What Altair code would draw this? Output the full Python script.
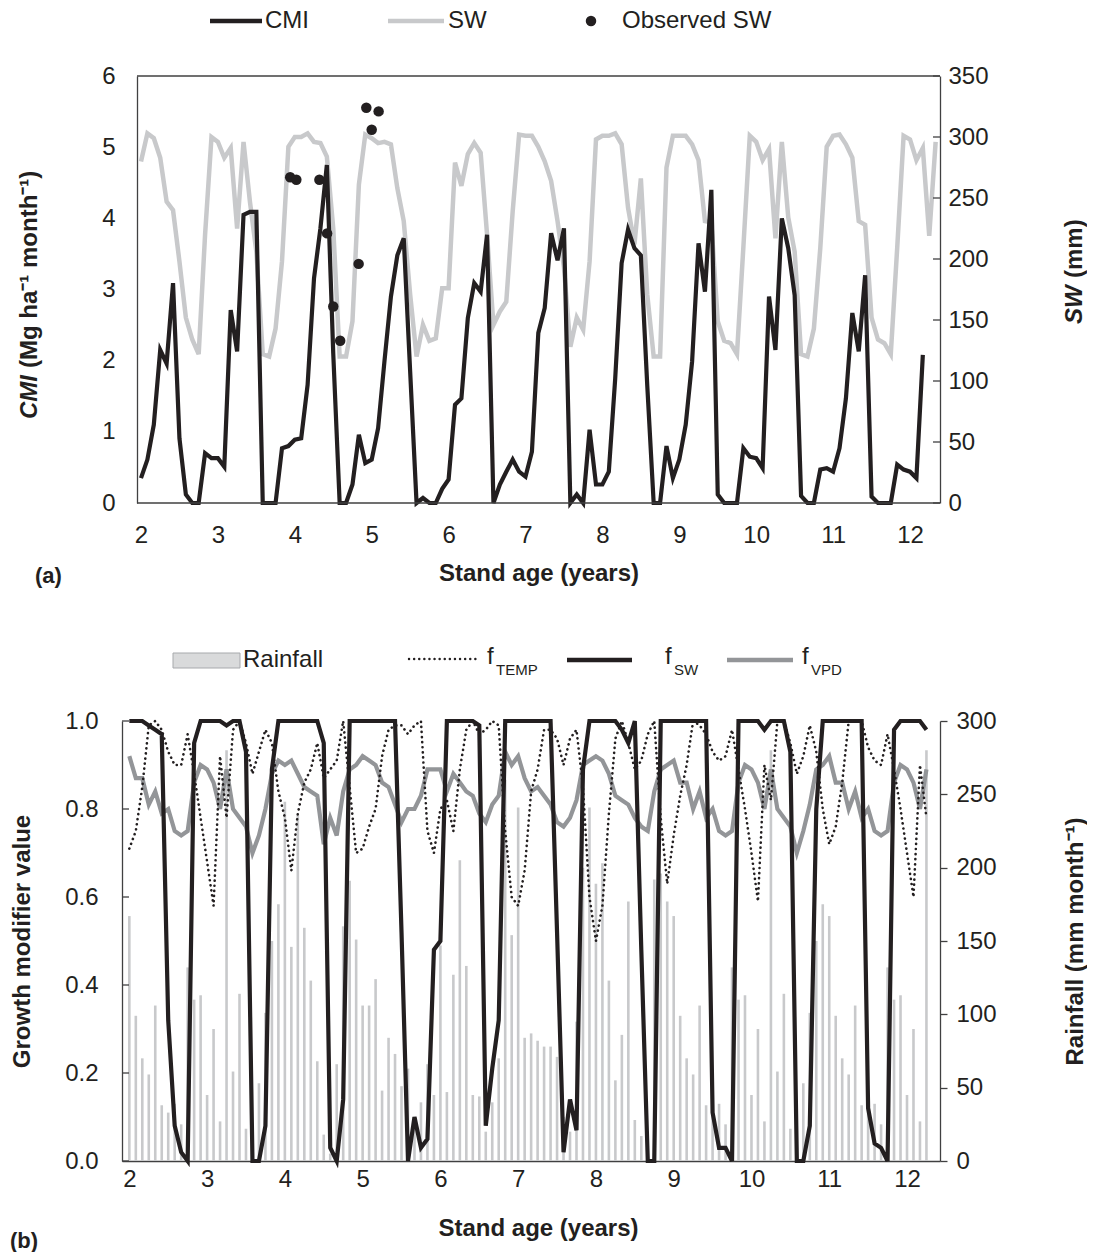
import altair as alt
import pandas as pd

# ---------------- data ----------------
x_ticks = [2, 3, 4, 5, 6, 7, 8, 9, 10, 11, 12]
cmi_ticks = [0, 1, 2, 3, 4, 5, 6]
sw_ticks = [0, 50, 100, 150, 200, 250, 300, 350]
f_ticks = [0.0, 0.2, 0.4, 0.6, 0.8, 1.0]
rain_ticks = [0, 50, 100, 150, 200, 250, 300]

# panel (a): monthly values from stand age 2.0
cmi = [0.35, 0.61, 1.10, 2.15, 1.96, 3.09, 0.91, 0.12, 0.00, 0.00, 0.70, 0.63,
       0.63, 0.51, 2.71, 2.13, 4.05, 4.09, 4.09, 0.00, 0.00, 0.00, 0.77, 0.80,
       0.89, 0.91, 1.66, 3.16, 3.86, 4.75, 2.10, 0.00, 0.00, 0.26, 0.96, 0.56,
       0.61, 1.05, 2.00, 2.90, 3.48, 3.72, 1.85, 0.00, 0.07, 0.00, 0.00, 0.20,
       0.33, 1.38, 1.47, 2.60, 3.09, 2.97, 3.77, 0.00, 0.26, 0.44, 0.61, 0.44,
       0.37, 0.72, 2.39, 2.74, 3.79, 3.41, 3.86, 0.00, 0.12, 0.00, 1.03, 0.26,
       0.26, 0.44, 1.75, 3.37, 3.84, 3.58, 3.48, 1.65, 0.00, 0.00, 0.80, 0.35,
       0.61, 1.10, 1.99, 3.65, 2.97, 4.40, 0.12, 0.00, 0.00, 0.00, 0.77, 0.65,
       0.63, 0.49, 2.90, 2.15, 4.00, 3.58, 2.92, 0.10, 0.00, 0.00, 0.47, 0.49,
       0.44, 0.77, 1.47, 2.67, 2.13, 3.20, 0.09, 0.00, 0.00, 0.00, 0.54, 0.47,
       0.44, 0.35, 2.08]

sw = [280, 303, 299, 283, 247, 240, 198, 152, 134, 122, 220, 300,
      296, 283, 291, 225, 296, 247, 206, 122, 120, 143, 198, 292,
      300, 300, 303, 296, 295, 284, 225, 120, 120, 149, 261, 302,
      299, 295, 296, 294, 258, 231, 171, 120, 146, 133, 135, 176,
      176, 279, 260, 286, 295, 287, 220, 146, 157, 165, 239, 302,
      301, 301, 292, 280, 264, 231, 193, 128, 152, 142, 198, 298,
      301, 301, 303, 294, 242, 212, 266, 171, 120, 120, 275, 301,
      301, 301, 294, 281, 231, 230, 149, 133, 131, 122, 210, 301,
      296, 281, 290, 217, 296, 234, 206, 122, 120, 143, 209, 292,
      301, 302, 294, 283, 231, 228, 152, 134, 131, 122, 209, 301,
      298, 281, 291, 219, 296]

obs_age = [3.94, 4.02, 4.32, 4.42, 4.50, 4.59, 4.83, 4.93, 5.00, 5.09]
obs_sw = [267, 265, 265, 221, 161, 133, 196, 324, 306, 321]

# panel (b): monthly values from stand age 2.0
rain = [167, 99, 70, 59, 106, 38, 33, 39, 25, 132, 110, 113,
        45, 90, 27, 280, 61, 114, 22, 10, 53, 101, 150, 175,
        245, 146, 236, 159, 123, 68, 18, 5, 66, 160, 191, 151,
        106, 106, 124, 48, 84, 73, 51, 63, 30, 40, 66, 45,
        147, 47, 127, 205, 133, 45, 44, 20, 40, 70, 260, 154,
        241, 84, 87, 82, 78, 78, 71, 30, 20, 95, 200, 241,
        189, 203, 123, 55, 86, 177, 28, 17, 5, 192, 196, 177,
        167, 99, 70, 59, 106, 38, 33, 39, 25, 132, 110, 113,
        45, 90, 27, 280, 61, 114, 22, 10, 53, 101, 150, 175,
        167, 99, 70, 59, 106, 38, 33, 39, 25, 132, 110, 113,
        45, 90, 27, 280]

ftemp = [0.71, 0.75, 0.85, 0.99, 1.00, 0.98, 0.93, 0.90, 0.90, 0.97, 0.88, 0.78,
         0.68, 0.58, 0.92, 0.78, 0.98, 1.00, 0.95, 0.88, 0.93, 0.98, 0.95, 0.84,
         0.78, 0.66, 0.79, 0.86, 0.89, 0.95, 0.87, 0.89, 0.91, 1.00, 0.85, 0.70,
         0.71, 0.76, 0.80, 0.92, 0.98, 0.99, 0.99, 0.97, 0.99, 1.00, 0.75, 0.70,
         0.80, 0.82, 0.75, 0.89, 0.98, 1.00, 0.97, 0.98, 1.00, 0.99, 0.75, 0.60,
         0.58, 0.66, 0.84, 0.89, 0.98, 0.98, 0.96, 0.90, 0.96, 0.98, 0.85, 0.60,
         0.50, 0.58, 0.79, 0.96, 1.00, 0.95, 0.89, 0.91, 0.97, 1.00, 0.78, 0.63,
         0.74, 0.83, 0.90, 1.00, 0.99, 0.97, 0.93, 0.91, 0.92, 0.98, 0.89, 0.80,
         0.70, 0.59, 0.90, 0.82, 1.00, 1.00, 0.95, 0.88, 0.92, 0.99, 0.93, 0.80,
         0.72, 0.76, 0.86, 1.00, 1.00, 1.00, 0.94, 0.91, 0.90, 0.97, 0.89, 0.80,
         0.70, 0.60, 0.90, 0.78]

fsw = [1.00, 1.00, 1.00, 0.99, 0.98, 0.97, 0.32, 0.08, 0.02, 0.00, 0.95, 1.00,
       1.00, 1.00, 1.00, 0.99, 1.00, 1.00, 0.93, 0.00, 0.00, 0.08, 0.89, 1.00,
       1.00, 1.00, 1.00, 1.00, 1.00, 1.00, 0.95, 0.03, 0.00, 0.14, 1.00, 1.00,
       1.00, 1.00, 1.00, 1.00, 1.00, 1.00, 0.52, 0.00, 0.10, 0.03, 0.05, 0.48,
       0.50, 1.00, 1.00, 1.00, 1.00, 1.00, 0.99, 0.08, 0.21, 0.32, 1.00, 1.00,
       1.00, 1.00, 1.00, 1.00, 1.00, 1.00, 0.52, 0.02, 0.14, 0.07, 0.89, 1.00,
       1.00, 1.00, 1.00, 1.00, 0.98, 0.95, 1.00, 0.48, 0.00, 0.00, 1.00, 1.00,
       1.00, 1.00, 1.00, 1.00, 1.00, 1.00, 0.11, 0.03, 0.03, 0.00, 1.00, 1.00,
       1.00, 1.00, 0.98, 1.00, 1.00, 1.00, 0.93, 0.00, 0.00, 0.08, 0.80, 1.00,
       1.00, 1.00, 1.00, 1.00, 1.00, 1.00, 0.12, 0.04, 0.03, 0.00, 0.98, 1.00,
       1.00, 1.00, 1.00, 0.98]

fvpd = [0.92, 0.87, 0.87, 0.81, 0.84, 0.79, 0.80, 0.75, 0.74, 0.75, 0.86, 0.90,
        0.89, 0.86, 0.80, 0.89, 0.80, 0.78, 0.76, 0.70, 0.74, 0.80, 0.88, 0.91,
        0.90, 0.91, 0.88, 0.85, 0.84, 0.83, 0.72, 0.78, 0.74, 0.84, 0.89, 0.90,
        0.92, 0.91, 0.90, 0.86, 0.85, 0.81, 0.77, 0.80, 0.80, 0.83, 0.89, 0.89,
        0.89, 0.84, 0.88, 0.86, 0.84, 0.83, 0.79, 0.77, 0.81, 0.83, 0.93, 0.90,
        0.92, 0.87, 0.84, 0.85, 0.83, 0.81, 0.77, 0.76, 0.78, 0.82, 0.90, 0.91,
        0.92, 0.91, 0.88, 0.83, 0.82, 0.81, 0.78, 0.76, 0.75, 0.84, 0.89, 0.90,
        0.91, 0.86, 0.86, 0.80, 0.84, 0.78, 0.80, 0.75, 0.74, 0.75, 0.86, 0.90,
        0.89, 0.86, 0.80, 0.89, 0.80, 0.78, 0.76, 0.70, 0.75, 0.81, 0.89, 0.90,
        0.92, 0.86, 0.86, 0.80, 0.84, 0.78, 0.80, 0.75, 0.74, 0.75, 0.86, 0.90,
        0.89, 0.86, 0.80, 0.89]

# ---------------- tables ----------------
START_AGE = 2
age_a = [START_AGE + m / 12 for m in range(len(sw))]
df_sw = pd.DataFrame({"age": age_a, "sw": sw})
df_cmi = pd.DataFrame({"age": age_a[:len(cmi)], "cmi": cmi})
df_obs = pd.DataFrame({"age": obs_age, "sw": obs_sw})
age_b = [START_AGE + m / 12 for m in range(len(rain))]
df_b = pd.DataFrame({"age": age_b, "rain": rain, "ftemp": ftemp,
                     "fsw": fsw, "fvpd": fvpd})
one = pd.DataFrame({"z": [0]})

# ---------------- styles ----------------
FONT = "Liberation Sans"
BLACK = "#231f20"
LGRAY = "#c8c9cb"
MGRAY = "#939598"
AXC = "#404041"
LAB = 24
LEG = 24
TIT = 24


def deco_text(txt, x, y, size=LEG, bold=False, align="left"):
    return alt.Chart(one).mark_text(
        text=txt, font=FONT, fontSize=size, align=align, baseline="middle",
        color=BLACK, fontWeight="bold" if bold else "normal"
    ).encode(x=alt.value(x), y=alt.value(y))


def vtitle(txt, x, y, italic=False):
    # vertical (reading upwards) bold title piece starting at (x, y)
    kw = dict(text=txt, font=FONT, fontSize=TIT, fontWeight="bold",
              align="left", baseline="middle", angle=270, color=BLACK)
    if italic:
        kw["fontStyle"] = "italic"
    return alt.Chart(one).mark_text(**kw).encode(x=alt.value(x), y=alt.value(y))


def deco_rule(x1, x2, y, color, width, dash=None):
    kw = dict(color=color, strokeWidth=width)
    if dash is not None:
        kw["strokeDash"] = dash
        kw["strokeCap"] = "round"
    return alt.Chart(one).mark_rule(**kw).encode(
        x=alt.value(x1), x2=alt.value(x2), y=alt.value(y))


def anchor(x, y):
    return alt.Chart(one).mark_point(opacity=0, size=4, filled=True).encode(
        x=alt.value(x), y=alt.value(y))


# ---------------- panel (a) ----------------
# plot group spans the same width as panel (b); the left axis sits 15 px inside
WA, HA = 818, 427
AX0 = 15
xA = alt.Scale(domain=[1.753, 12.39], nice=False, zero=False)
yCMI = alt.Scale(domain=[0, 6], nice=False, zero=True)
ySW = alt.Scale(domain=[0, 350], nice=False, zero=True)

axA_x = alt.Axis(values=x_ticks, format="d", title="Stand age (years)",
                 titleX=(AX0 + WA) / 2, titleY=70, titleAlign="center",
                 titleBaseline="middle", labelPadding=20, labelFlush=False,
                 domain=False)
axA_l = alt.Axis(orient="left", values=cmi_ticks, format="d", offset=-AX0,
                 title="", labelPadding=22, labelFlush=False)
axA_r = alt.Axis(orient="right", values=sw_ticks, format="d",
                 title="", labelPadding=8, labelFlush=False)

sw_line = alt.Chart(df_sw).mark_line(color=LGRAY, strokeWidth=4.5).encode(
    x=alt.X("age:Q", scale=xA, axis=axA_x),
    y=alt.Y("sw:Q", scale=ySW, axis=axA_r))
obs_pts = alt.Chart(df_obs).mark_circle(color=BLACK, size=110, opacity=1).encode(
    x=alt.X("age:Q", scale=xA, axis=axA_x),
    y=alt.Y("sw:Q", scale=ySW, axis=axA_r))
sw_tick_marks = alt.Chart(pd.DataFrame({"sw": sw_ticks})).mark_rule(
    color=AXC, strokeWidth=1.3).encode(
    x=alt.value(WA - 7), x2=alt.value(WA),
    y=alt.Y("sw:Q", scale=ySW, axis=axA_r))
sw_layer = alt.layer(sw_line, sw_tick_marks, obs_pts)

cmi_line = alt.Chart(df_cmi).mark_line(color=BLACK, strokeWidth=4.2).encode(
    x=alt.X("age:Q", scale=xA, axis=axA_x),
    y=alt.Y("cmi:Q", scale=yCMI, axis=axA_l))

frameA = [deco_rule(AX0, WA, 0, AXC, 1.3), deco_rule(AX0, WA, HA, AXC, 1.3)]

titlesA = [
    vtitle("CMI", -92, 343, italic=True),
    vtitle("(Mg ha⁻¹ month⁻¹)", -92, 292),
    vtitle("SW", 953, 248, italic=True),
    vtitle("(mm)", 953, 202),
]

legA = [
    deco_rule(88, 140, -55, BLACK, 4.5),
    deco_text("CMI", 143, -55),
    deco_rule(266, 322, -55, LGRAY, 4.5),
    deco_text("SW", 326, -55),
    alt.Chart(one).mark_circle(color=BLACK, size=110, opacity=1).encode(
        x=alt.value(469), y=alt.value(-55)),
    deco_text("Observed SW", 500, -55),
    deco_text("(a)", -87, 500, size=22, bold=True),
    anchor(-112, -75),
    anchor(-112, 530),
]

panelA = alt.layer(sw_layer, cmi_line, *frameA, *titlesA, *legA).resolve_scale(
    y="independent").properties(width=WA, height=HA)

# ---------------- panel (b) ----------------
WB, HB = 818, 440
xB = alt.Scale(domain=[1.97, 12.36], nice=False, zero=False)
yF = alt.Scale(domain=[0, 1], nice=False, zero=True)
yR = alt.Scale(domain=[0, 300], nice=False, zero=True)

axB_x = alt.Axis(values=x_ticks, format="d", title="Stand age (years)",
                 titleX=416, titleY=67, titleAlign="center",
                 titleBaseline="middle", labelPadding=6, labelFlush=False)
axB_l = alt.Axis(orient="left", values=f_ticks, format=".1f",
                 title="Growth modifier value", titleX=-100, titleY=HB / 2,
                 titleAngle=270, titleAlign="center", titleBaseline="middle",
                 labelPadding=24, labelFlush=False)
axB_r = alt.Axis(orient="right", values=rain_ticks, format="d",
                 title="Rainfall (mm month⁻¹)", titleX=135, titleY=HB / 2,
                 titleAngle=270, titleAlign="center", titleBaseline="middle",
                 ticks=True, tickSize=7, labelPadding=9, labelFlush=False)

bars = alt.Chart(df_b).mark_bar(color=LGRAY, size=2.6).encode(
    x=alt.X("age:Q", scale=xB, axis=axB_x),
    y=alt.Y("rain:Q", scale=yR, axis=axB_r))

fvpd_line = alt.Chart(df_b).mark_line(color=MGRAY, strokeWidth=4.2).encode(
    x=alt.X("age:Q", scale=xB, axis=axB_x),
    y=alt.Y("fvpd:Q", scale=yF, axis=axB_l))
fsw_line = alt.Chart(df_b).mark_line(color=BLACK, strokeWidth=4.2).encode(
    x=alt.X("age:Q", scale=xB, axis=axB_x),
    y=alt.Y("fsw:Q", scale=yF, axis=axB_l))
ftemp_line = alt.Chart(df_b).mark_line(
    color=BLACK, strokeWidth=2.6, strokeDash=[0.1, 5], strokeCap="round").encode(
    x=alt.X("age:Q", scale=xB, axis=axB_x),
    y=alt.Y("ftemp:Q", scale=yF, axis=axB_l))
f_tick_marks = alt.Chart(pd.DataFrame({"fvpd": f_ticks})).mark_rule(
    color=AXC, strokeWidth=1.3).encode(
    x=alt.value(0), x2=alt.value(7),
    y=alt.Y("fvpd:Q", scale=yF, axis=axB_l))
f_layer = alt.layer(fvpd_line, fsw_line, ftemp_line, f_tick_marks)

legB = [
    alt.Chart(one).mark_rect(fill="#d9dadb", stroke="#a7a9ac", strokeWidth=1).encode(
        x=alt.value(51), x2=alt.value(118), y=alt.value(-68), y2=alt.value(-53)),
    deco_text("Rainfall", 121, -61),
    deco_rule(287, 358, -62, BLACK, 2.4, dash=[0.1, 5]),
    deco_text("f", 365, -64),
    deco_text("TEMP", 374, -51, size=15),
    deco_rule(445, 510, -61, BLACK, 4.5),
    deco_text("f", 543, -64),
    deco_text("SW", 552, -51, size=15),
    deco_rule(605, 671, -61, MGRAY, 4.5),
    deco_text("f", 680, -64),
    deco_text("VPD", 689, -51, size=15),
    deco_text("(b)", -112, 520, size=22, bold=True),
    anchor(-112, -100),
]

panelB = alt.layer(bars, f_layer, *legB).resolve_scale(
    y="independent").properties(width=WB, height=HB)

chart = alt.vconcat(panelA, panelB, spacing=13).properties(
    padding={"left": 9, "top": 0, "right": 0, "bottom": 0}
).configure_view(stroke=None).configure_axis(
    domainColor=AXC, domainWidth=1.3, grid=False, ticks=False,
    tickColor=AXC, tickWidth=1.3,
    labelFont=FONT, labelFontSize=LAB, labelColor=BLACK,
    titleFont=FONT, titleFontSize=TIT, titleFontWeight="bold", titleColor=BLACK
)

chart.save("out.html", embed_options={"renderer": "svg", "actions": False})
